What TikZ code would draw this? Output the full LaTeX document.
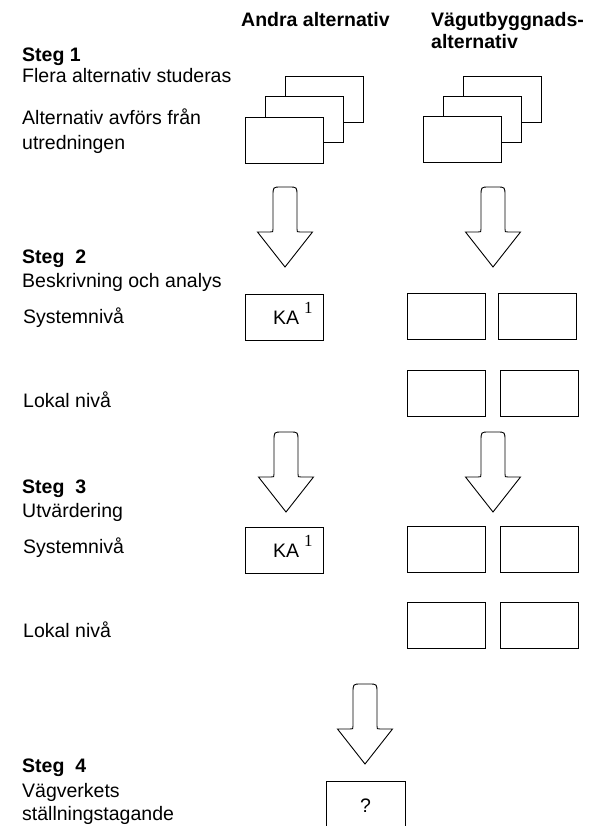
\documentclass[tikz,border=0pt]{standalone}
\usepackage{fontspec}
\setmainfont{Liberation Sans}
\newfontfamily\serifone{Liberation Serif}
\begin{document}
\begin{tikzpicture}[x=1pt,y=-1pt,
  lbl/.style={anchor=base west, inner sep=0pt, font=\fontsize{19.5}{23}\selectfont},
  hdr/.style={lbl, font=\fontsize{19.5}{23}\selectfont\bfseries},
  card/.style={draw=black, line width=0.9pt, fill=white, inner sep=0pt, minimum width=78pt, minimum height=46pt},
  shapeline/.style={draw=black, line width=0.9pt, fill=white, line join=miter},
  blockarr/.pic={
    \path[shapeline] (-27.5,45) -- (-15,45) .. controls (-12,45) .. (-12,42)
      -- (-12,9) .. controls (-12,0) .. (-4,0) -- (4,0) .. controls (12,0) .. (12,9)
      -- (12,42) .. controls (12,45) .. (15,45) -- (27.5,45) -- (0,80) -- cycle;
  }]
\useasboundingbox (0,0) rectangle (590,826);

% column headers
\node[hdr] (h1) at (241,27) {Andra alternativ};
\node[hdr] (h2) at (431,27) {Vägutbyggnads-};
\node[hdr] (h3) at (431,49) {alternativ};

% Step 1 texts
\node[hdr] (s1) at (22,62) {Steg 1};
\node[lbl] (s1a) at (22,83) {Flera alternativ studeras};
\node[lbl] (s1b) at (22,125) {Alternativ avförs från};
\node[lbl] (s1c) at (22,150) {utredningen};

% Step 1 stacks
\node[card] (la3) at (324,99.5) {};
\node[card] (la2) at (304,119.5) {};
\node[card] (la1) at (284,140) {};
\node[card] (ra3) at (502,99.5) {};
\node[card] (ra2) at (482,119.5) {};
\node[card] (ra1) at (462.5,139.5) {};

% arrows step 1 -> 2
\pic at (285,187) {blockarr};
\pic at (493,187) {blockarr};

% Step 2 texts
\node[hdr] (s2) at (22,263) {Steg\ \ 2};
\node[lbl] (s2a) at (22,287) {Beskrivning och analys};
\node[lbl] (s2b) at (23,323) {Systemnivå};
\node[lbl] (s2c) at (23,407) {Lokal nivå};

% Step 2 boxes
\node[card] (ka2) at (284,317.5) {};
\node[lbl] (ka2t) at (273,324.5) {KA\hspace{5pt}\raisebox{11pt}{\serifone\fontsize{17}{17}\selectfont 1}};
\node[card] (b21) at (446,316.5) {};
\node[card] (b22) at (537,316.5) {};
\node[card] (b23) at (446,393.5) {};
\node[card] (b24) at (539,393.5) {};

% arrows step 2 -> 3
\pic at (286,432) {blockarr};
\pic at (493,432) {blockarr};

% Step 3 texts
\node[hdr] (s3) at (22,493) {Steg\ \ 3};
\node[lbl] (s3a) at (22,517) {Utvärdering};
\node[lbl] (s3b) at (23,553) {Systemnivå};
\node[lbl] (s3c) at (23,637) {Lokal nivå};

% Step 3 boxes
\node[card] (ka3) at (284,550) {};
\node[lbl] (ka3t) at (273,557) {KA\hspace{5pt}\raisebox{11pt}{\serifone\fontsize{17}{17}\selectfont 1}};
\node[card] (b31) at (446.5,549.5) {};
\node[card] (b32) at (539,549.5) {};
\node[card] (b33) at (446.5,625) {};
\node[card] (b34) at (539,625) {};

% arrow step 3 -> 4
\pic at (365,684) {blockarr};

% Step 4 texts
\node[hdr] (s4) at (22,772) {Steg\ \ 4};
\node[lbl] (s4a) at (22,797) {Vägverkets};
\node[lbl] (s4b) at (22,820) {ställningstagande};

% Step 4 box (cut by the page edge)
\draw[shapeline, fill=none] (326,827) -- (326,781) -- (405,781) -- (405,827);
\node[lbl, anchor=base] (q) at (365.5,812) {?};
\end{tikzpicture}
\end{document}
